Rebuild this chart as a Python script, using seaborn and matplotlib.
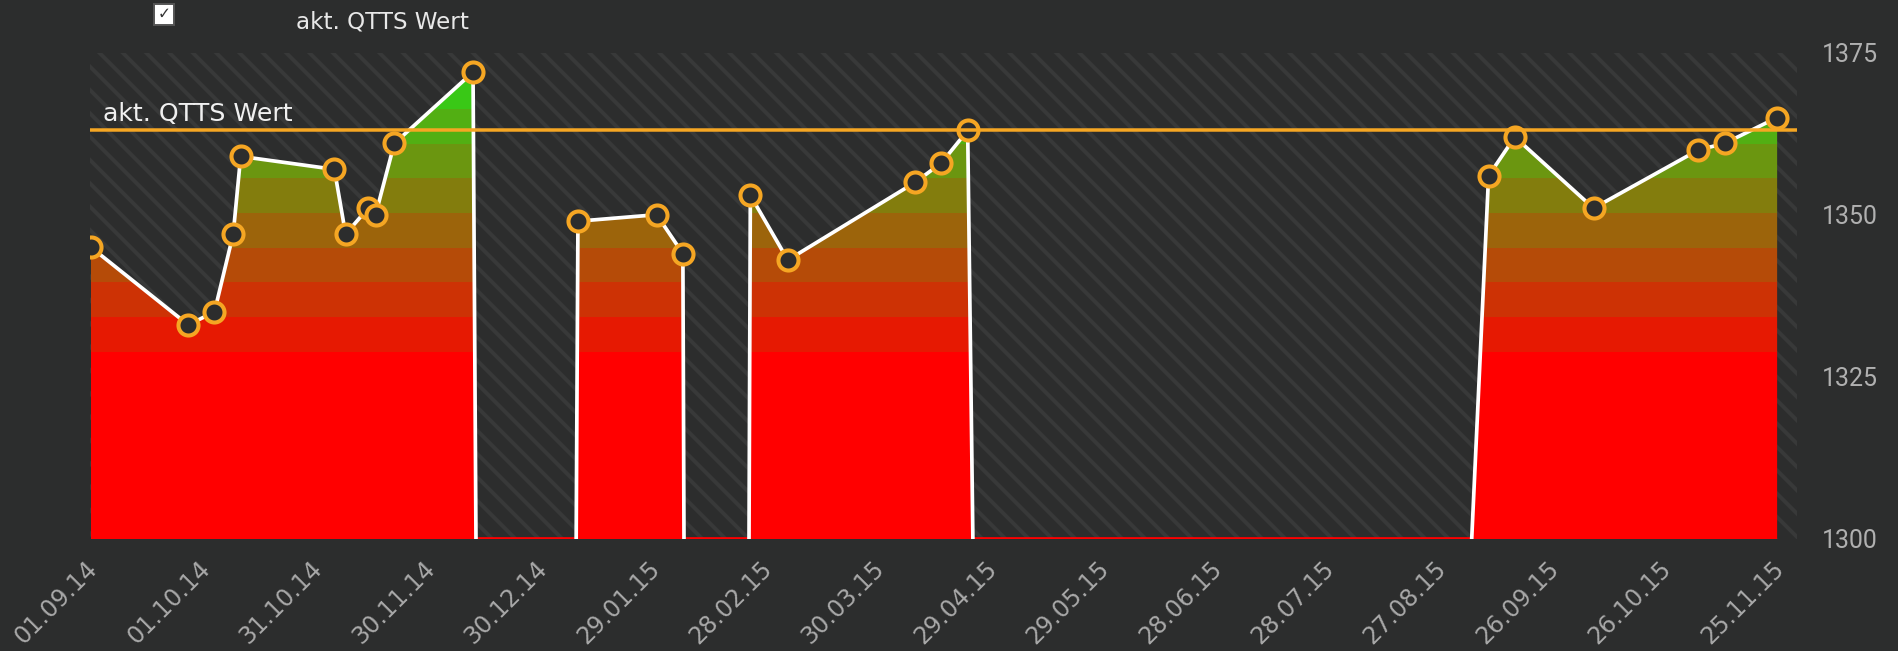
import numpy as np
import pandas as pd
import matplotlib
matplotlib.use("Agg")
import matplotlib.pyplot as plt
import matplotlib.dates as mdates
from matplotlib.colors import ListedColormap
from matplotlib.patches import Rectangle
from matplotlib.transforms import ScaledTranslation
import seaborn as sns

# ---------------- data ----------------
dates = [
    "2014-09-01", "2014-09-27", "2014-10-04", "2014-10-09", "2014-10-11",
    "2014-11-05", "2014-11-08", "2014-11-14", "2014-11-16", "2014-11-21",
    "2014-12-12", "2014-12-27", "2015-01-09", "2015-01-30", "2015-02-06",
    "2015-02-15", "2015-02-24", "2015-03-06", "2015-04-09", "2015-04-16",
    "2015-04-23", "2015-05-23", "2015-09-09", "2015-09-16", "2015-10-07",
    "2015-11-04", "2015-11-11", "2015-11-25",
]
values = [
    1345, 1333, 1335, 1347, 1359,
    1357, 1347, 1351, 1350, 1361,
    1372, 0, 1349, 1350, 1344,
    0, 1353, 1343, 1355, 1358,
    1363, 0, 1356, 1362, 1351,
    1360, 1361, 1365,
]
current_value = 1363
series_label = "akt. QTTS Wert"
y_ticks = [1300, 1325, 1350, 1375]
x_tick_start = "2014-09-01"
x_tick_count = 16
x_tick_step_days = 30

# ---------------- style ----------------
BG = "#2c2d2d"
STRIPE = "#383939"
ORANGE = "#f5a623"
DPI = 140
W, H = 1898, 651
Y_MIN, Y_MAX = 1300, 1375

sns.set_style("dark", rc={"axes.facecolor": BG, "figure.facecolor": BG})
plt.rcParams["font.family"] = ["DejaVu Sans"]
plt.rcParams["hatch.linewidth"] = 2.0
plt.rcParams["hatch.color"] = STRIPE

fig = plt.figure(figsize=(W / DPI, H / DPI), dpi=DPI, facecolor=BG)
ax = fig.add_axes([90 / W, 1 - 538.7 / H, (1797 - 90) / W, (538.7 - 52.7) / H])
ax.set_facecolor(BG)
ax.add_patch(Rectangle((0, 0), 1, 1, transform=ax.transAxes, facecolor=BG,
                       edgecolor=STRIPE, hatch="\\\\", lw=0, zorder=0))

df = pd.DataFrame({"date": pd.to_datetime(dates), "value": values})
x0 = mdates.date2num(df["date"].iloc[0])
x1 = mdates.date2num(df["date"].iloc[-1])

# area outline (only its base is kept: thin red line along the bottom in gaps)
fill = ax.fill_between(df["date"], df["value"], Y_MIN, facecolor="none",
                       edgecolor="#ff0000", lw=1.6, zorder=1.4)
base_clip = Rectangle((x0, Y_MIN), x1 - x0, 0.3, transform=ax.transData)
fill.set_clip_path(base_clip)

# stepped red->green gradient clipped to the area
band_edges = 1328.9 + 75 / 14 * np.arange(8)
c_lo = np.array([255, 0, 0]) / 255
c_hi = np.array([58, 200, 22]) / 255
band_colors = [c_lo + (c_hi - c_lo) * k / 8 for k in range(9)]
yy = np.linspace(Y_MIN, Y_MAX, 1501)
idx = np.digitize(yy, band_edges)
im = ax.imshow(idx[:, None], extent=[x0, x1, Y_MIN, Y_MAX], origin="lower",
               aspect="auto", cmap=ListedColormap(band_colors), vmin=-0.5,
               vmax=8.5, interpolation="nearest", zorder=1.5)
im.set_clip_path(fill.get_paths()[0], transform=ax.transData)

sns.lineplot(data=df, x="date", y="value", ax=ax, color="white", linewidth=1.9,
             marker="o", markersize=10.3, markerfacecolor=BG,
             markeredgecolor=ORANGE, markeredgewidth=2.1, zorder=3)

ax.axhline(current_value, color=ORANGE, lw=1.8, zorder=4)
ax.annotate(series_label, xy=(0, current_value), xycoords=("axes fraction", "data"),
            xytext=(13, 9), textcoords="offset pixels", color="#f0f0f0",
            fontsize=13, ha="left", va="baseline", zorder=5)

# axes
start = pd.Timestamp(x_tick_start)
ax.set_ylim(Y_MIN, Y_MAX)
ax.set_xlim(start - pd.Timedelta(hours=5), start + pd.Timedelta(hours=455.3 * 24))
for s in ax.spines.values():
    s.set_visible(False)
ax.grid(False)
ax.set_xlabel("")
ax.set_ylabel("")

ax.yaxis.tick_right()
ax.set_yticks(y_ticks)
ax.set_yticklabels([str(v) for v in y_ticks])
ax.tick_params(axis="y", length=0, pad=12.9, labelsize=12.8, labelcolor="#b0b0b0")
for lab in ax.get_yticklabels():
    lab.set_fontfamily("Roboto")

xt = pd.date_range(start, periods=x_tick_count, freq=f"{x_tick_step_days}D")
ax.set_xticks(xt)
ax.set_xticklabels([d.strftime("%d.%m.%y") for d in xt], rotation=45,
                   ha="right", va="center", rotation_mode="anchor")
ax.tick_params(axis="x", length=0, pad=13.4, labelsize=12.2, labelcolor="#a8a8a8")
shift = ScaledTranslation(3 / DPI, 0, fig.dpi_scale_trans)
for lab in ax.get_xticklabels():
    lab.set_transform(lab.get_transform() + shift)

# legend (checkbox + label)
fig.patches.append(Rectangle((154 / W, 1 - 25 / H), 20 / W, 21 / H,
                             transform=fig.transFigure, facecolor="white",
                             edgecolor="#555555", lw=1.0))
fig.text(164 / W, 1 - 14.5 / H, "\u2713", ha="center", va="center",
         fontsize=8, color="#333333")
fig.text(296 / W, 1 - 28.3 / H, series_label, ha="left", va="baseline",
         fontsize=11.8, color="#e8e8e8")

fig.savefig("out.png", dpi=DPI, facecolor=BG)
